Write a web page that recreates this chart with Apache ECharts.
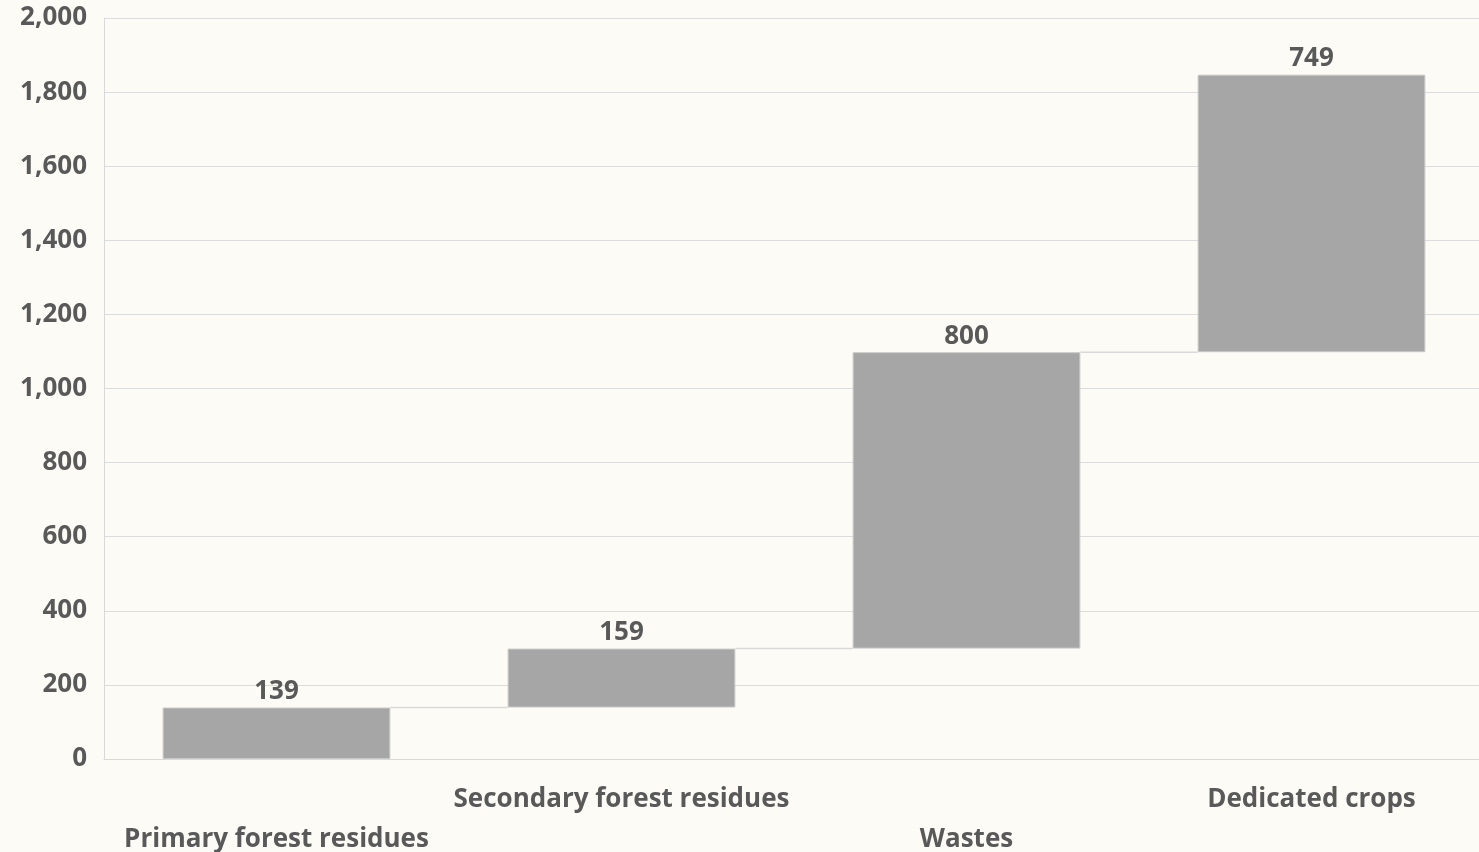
<!DOCTYPE html>
<html>
<head>
<meta charset="utf-8">
<style>
  html, body { margin: 0; padding: 0; background: #fcfbf6; }
  #chart { width: 1479px; height: 852px; }
</style>
<script src="https://cdn.jsdelivr.net/npm/echarts@6/dist/echarts.min.js"></script>
</head>
<body>
<div id="chart"></div>
<script>
// Waterfall: each source adds to the running total
const categories = ['Primary forest residues', 'Secondary forest residues', 'Wastes', 'Dedicated crops'];
const increments = [139, 159, 800, 749];
const yTicks = { min: 0, max: 2000, interval: 200 };

// invisible base of each floating bar = running total before it
const bases = [];
const tops = [];
let running = 0;
increments.forEach(v => { bases.push(running); running += v; tops.push(running); });

const textColor = '#595959';
const font = '"Open Sans", "Noto Sans", sans-serif';
const fontSize = 26;
const barFraction = 0.66;

const chart = echarts.init(document.getElementById('chart'));
chart.setOption({
  backgroundColor: '#fcfbf6',
  animation: false,
  grid: { left: 104, right: -5, top: 18, bottom: 93, outerBoundsMode: 'none', containLabel: false },
  xAxis: {
    type: 'category',
    data: categories,
    axisLine: { show: true, lineStyle: { color: '#d9d9d9', width: 1 } },
    axisTick: { show: false },
    axisLabel: {
      interval: 0,
      margin: 21,
      color: textColor,
      fontFamily: font,
      fontWeight: 'bold',
      fontSize: fontSize,
      lineHeight: 40,
      formatter: (name, idx) => (idx % 2 === 0 ? '\n' + name : name)
    }
  },
  yAxis: {
    type: 'value',
    min: yTicks.min,
    max: yTicks.max,
    interval: yTicks.interval,
    axisLine: { show: true, lineStyle: { color: '#d9d9d9', width: 1 } },
    axisTick: { show: false },
    splitLine: { show: true, lineStyle: { color: '#dcdcdc', width: 1 } },
    axisLabel: {
      margin: 17,
      padding: [4, 0, 0, 0],
      color: textColor,
      fontFamily: font,
      fontWeight: 'bold',
      fontSize: fontSize,
      formatter: v => v.toLocaleString('en-US')
    }
  },
  series: [
    {
      name: 'base',
      type: 'bar',
      stack: 'total',
      barCategoryGap: '34%',
      itemStyle: { color: 'transparent' },
      silent: true,
      data: bases
    },
    {
      name: 'increment',
      type: 'bar',
      stack: 'total',
      barCategoryGap: '34%',
      itemStyle: { color: '#a6a6a6', borderColor: '#c8c8c8', borderWidth: 1 },
      label: {
        show: true,
        position: 'top',
        distance: 3,
        color: textColor,
        fontFamily: font,
        fontWeight: 'bold',
        fontSize: fontSize
      },
      data: increments
    },
    {
      // connector lines from the top of each bar to the next bar
      name: 'connectors',
      type: 'custom',
      silent: true,
      z: 1,
      data: tops.slice(0, -1).map((t, i) => [i, t]),
      renderItem: (params, api) => {
        const i = api.value(0);
        const level = api.value(1);
        const half = api.size([1, 0])[0] * barFraction / 2;
        const p1 = api.coord([i, level]);
        const p2 = api.coord([i + 1, level]);
        return {
          type: 'line',
          shape: { x1: p1[0] + half, y1: p1[1], x2: p2[0] - half, y2: p2[1] },
          style: { stroke: '#d9d9d9', lineWidth: 1.5 }
        };
      }
    }
  ]
});
</script>
</body>
</html>
